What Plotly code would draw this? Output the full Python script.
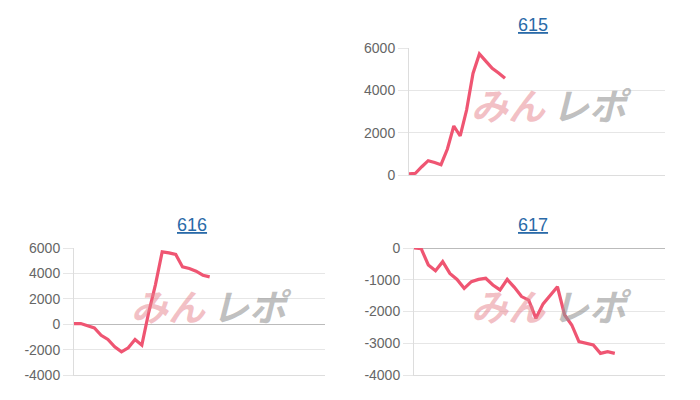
import plotly.graph_objects as go

# machine numbers and their balance series (None = no data yet)
titles = ["615", "616", "617"]

n_cats_615 = 41
vals_615 = [50, 80, 390, 677, 590, 488, 1228, 2315, 1843, 3070, 4800, 5717,
            5380, 5040, 4820, 4567]

n_cats_616 = 38
vals_616 = [50, 50, -130, -300, -870, -1200, -1780, -2180, -1860, -1200, -1650,
            900, 3100, 5700, 5620, 5490, 4510, 4380, 4170, 3860, 3730]

n_cats_617 = 36
vals_617 = [0, -20, -535, -714, -430, -800, -990, -1270, -1060, -990, -955,
            -1165, -1320, -990, -1240, -1530, -1640, -2215, -1760, -1480, -1220,
            -2110, -2425, -2950, -3000, -3055, -3320, -3265, -3320]

y_ticks_615 = [0, 2000, 4000, 6000]
y_ticks_616 = [-4000, -2000, 0, 2000, 4000, 6000]
y_ticks_617 = [-4000, -3000, -2000, -1000, 0]

W, H = 700, 400
LINE = "#ef5572"
TXT = "#666666"
GRID = "#e6e6e6"
FONT = "Liberation Sans, Arial, sans-serif"

# pixel boxes: (left, right, top, bottom)
boxes = [(409, 665, 48, 175), (74, 325, 248, 375), (414, 665, 248, 375)]
title_pos = [(533, 25), (192, 225), (533, 225)]
logo_pos = [(549, 104), (209, 305), (549, 305)]

series = [(n_cats_615, vals_615, y_ticks_615),
          (n_cats_616, vals_616, y_ticks_616),
          (n_cats_617, vals_617, y_ticks_617)]

fig = go.Figure()
layout = {}
for i, ((n, vals, ticks), (l, r, t, b)) in enumerate(zip(series, boxes)):
    k = "" if i == 0 else str(i + 1)
    cats = list(range(n))
    ys = vals + [None] * (n - len(vals))
    fig.add_trace(go.Scatter(
        x=cats, y=ys, mode="lines", xaxis="x" + k, yaxis="y" + k,
        line=dict(color=LINE, width=3.2), hoverinfo="skip", showlegend=False,
    ))
    layout["xaxis" + k] = dict(
        domain=[l / W, r / W], range=[0, n - 1], anchor="y" + k,
        showticklabels=False, showgrid=False, zeroline=False, automargin=False,
        showline=True, linecolor="#dddddd", linewidth=1,
    )
    layout["yaxis" + k] = dict(
        domain=[1 - b / H, 1 - t / H], range=[min(ticks), max(ticks)], anchor="x" + k,
        tickvals=ticks, ticktext=[str(v) for v in ticks],
        showgrid=True, gridcolor=GRID, gridwidth=1,
        zeroline=True, zerolinecolor="#bbbbbb", zerolinewidth=1, automargin=False,
        showline=True, linecolor="#dddddd", linewidth=1,
        ticks="outside", ticklen=10, tickcolor=GRID,
        tickfont=dict(size=14, color=TXT, family=FONT),
    )

annotations = []
for name, (tx, ty) in zip(titles, title_pos):
    annotations.append(dict(
        text="<u>%s</u>" % name, x=tx / W, y=1 - ty / H, xref="paper", yref="paper",
        showarrow=False, xanchor="center", yanchor="middle",
        font=dict(size=18, color="#2a6aa8", family=FONT),
    ))
for (lx, ly) in logo_pos:
    annotations.append(dict(
        text="<b><i>みん</i></b>", x=(lx - 1) / W, y=1 - ly / H, xref="paper", yref="paper",
        showarrow=False, xanchor="right", yanchor="middle",
        font=dict(size=37, color="rgba(230,130,140,0.5)", family="Noto Sans CJK JP"),
    ))
    annotations.append(dict(
        text="<b><i>レポ</i></b>", x=(lx + 1) / W, y=1 - ly / H, xref="paper", yref="paper",
        showarrow=False, xanchor="left", yanchor="middle",
        font=dict(size=37, color="rgba(150,150,150,0.6)", family="Noto Sans CJK JP"),
    ))

fig.update_layout(
    width=W, height=H, margin=dict(l=0, r=0, t=0, b=0),
    paper_bgcolor="white", plot_bgcolor="white",
    annotations=annotations, **layout,
)
fig.write_html("out.html", config={"displayModeBar": False},
               post_script="document.body.style.margin='0';")
